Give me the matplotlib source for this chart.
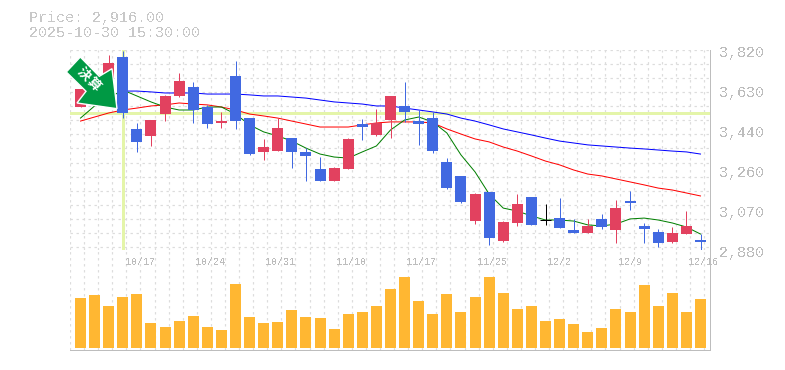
import numpy as np
import matplotlib
matplotlib.use("Agg")
import matplotlib.pyplot as plt
from matplotlib.patches import Polygon

nan = float("nan")

opens = [3552, 3608, 3632, 3787, 3449, 3416, 3519, 3604, 3646, 3552, 3477, 3698, 3500, 3341, 3345,
         3406, 3341, 3261, 3204, 3261, 3472, 3421, 3491, 3557, 3486, 3500, 3294, 3228, 3016, 3153,
         2922, 3007, 3129, 3021, 3030, 2974, 2960, 3026, 2974, 3110, 2993, 2965, 2918, 2955, 2927]
highs = [3637, 3702, 3797, 3815, 3477, 3491, 3609, 3712, 3670, 3562, 3529, 3768, 3500, 3402, 3500,
         3406, 3359, 3317, 3270, 3406, 3496, 3543, 3604, 3670, 3538, 3529, 3312, 3228, 3148, 3153,
         3016, 3143, 3129, 3096, 3124, 3026, 3026, 3049, 3115, 3157, 3007, 2979, 2988, 3063, 2955]
lows = [3552, 3608, 3608, 3500, 3341, 3369, 3486, 3599, 3477, 3453, 3453, 3449, 3327, 3303, 3345,
        3265, 3204, 3204, 3204, 3261, 3397, 3416, 3406, 3482, 3374, 3336, 3167, 3101, 3002, 2904,
        2918, 2993, 2998, 2998, 2983, 2960, 2960, 2979, 2913, 3068, 2913, 2894, 2913, 2955, 2880]
closes = [3637, 3702, 3759, 3524, 3388, 3491, 3604, 3674, 3538, 3472, 3486, 3486, 3331, 3364, 3453,
          3341, 3322, 3204, 3265, 3402, 3458, 3477, 3604, 3529, 3472, 3345, 3171, 3106, 3143, 2936,
          3012, 3096, 2998, 3021, 2983, 2960, 2993, 2988, 3077, 3101, 2979, 2913, 2960, 2993, 2916]

ma_short = [3500, 3557, 3594, 3632, 3604, 3576, 3552, 3538, 3538, 3552, 3552, 3519, 3468, 3435, 3416,
            3392, 3359, 3331, 3317, 3312, 3341, 3369, 3444, 3491, 3505, 3482, 3430, 3327, 3247, 3143,
            3077, 3063, 3040, 3021, 3021, 3016, 2998, 2993, 3002, 3026, 3030, 3021, 3007, 2988, 2955]
ma_mid = [3486, 3505, 3524, 3538, 3547, 3557, 3562, 3571, 3566, 3562, 3552, 3538, 3519, 3510, 3500,
          3486, 3472, 3458, 3458, 3458, 3468, 3477, 3482, 3482, 3482, 3477, 3449, 3425, 3402, 3388,
          3364, 3345, 3322, 3298, 3280, 3256, 3237, 3228, 3214, 3200, 3186, 3171, 3162, 3148, 3134]
ma_long = [nan, nan, nan, 3627, 3627, 3623, 3618, 3618, 3618, 3613, 3613, 3613, 3609, 3604, 3604,
           3599, 3594, 3585, 3576, 3571, 3566, 3557, 3557, 3547, 3538, 3529, 3519, 3500, 3486, 3468,
           3449, 3435, 3421, 3406, 3392, 3383, 3374, 3369, 3364, 3359, 3355, 3350, 3345, 3341, 3331]

volumes = [50, 53, 42, 51, 54, 25, 21, 27, 32, 21, 18, 64, 31, 25, 26, 38, 31, 30, 19, 34, 36, 42, 59,
           71, 47, 34, 54, 36, 51, 71, 55, 39, 42, 27, 29, 24, 16, 20, 39, 36, 63, 42, 55, 36, 49]

price_ticks = [3820, 3632, 3444, 3256, 3068, 2880]
price_labels = ["3,820", "3,630", "3,440", "3,260", "3,070", "2,880"]
date_ticks = [4, 9, 14, 19, 24, 29, 34, 39, 44]
date_labels = ["10/17", "10/24", "10/31", "11/10", "11/17", "11/25", "12/2", "12/9", "12/16"]
event_index = 3
event_price = 3524

W, H = 785, 370
PX = 0.72  # one pixel in points at dpi 100
MONO = "Liberation Mono"
RED = "#E2415F"
BLUE = "#4169E1"
GRID = "#DCDCDC"
FRAME = "#BDBDBD"
EVENT = "#E4F5A9"


def panel(left, top, right, bottom):
    return fig.add_axes([left / W, 1 - bottom / H, (right - left) / W, (bottom - top) / H])


fig = plt.figure(figsize=(W / 100, H / 100), dpi=100)
ax = panel(70, 50, 710, 250)
vol_ax = panel(70, 250, 710, 350)

x = np.arange(len(closes))
step = 620 / 44
xlim = ((70 - 80.5) / step, (710 - 80.5) / step)

for a in (ax, vol_ax):
    a.set_xlim(xlim)
    a.set_xticks([])
    a.set_yticks([])
    a.spines["top"].set_visible(False)
    a.spines["left"].set_visible(False)
    for side in ("bottom", "right"):
        a.spines[side].set_color(FRAME)
        a.spines[side].set_linewidth(1.0 * PX)
    # dashed vertical grid, every candle width
    for k in range(46):
        a.axvline(k - 0.745, color=GRID, lw=1.2 * PX, ls=(0, (2, 3)), zorder=1)

ax.set_ylim(2880, 3820)
vol_ax.set_ylim(-2, 98)

# horizontal grid
for k in range(15):
    ax.axhline(3820 - k * 14.07 * 4.7, color=GRID, lw=1.2 * PX, ls=(0, (2, 3)), zorder=1)

ax.axhline(event_price, color=EVENT, lw=3 * PX, zorder=2)
ax.axvline(event_index, color=EVENT, lw=3 * PX, zorder=2)

ax.plot(x, ma_long, color="#0000FF", lw=1.0 * PX, zorder=3)
ax.plot(x, ma_mid, color="#FF0000", lw=1.0 * PX, zorder=3)
ax.plot(x, ma_short, color="#007F00", lw=1.0 * PX, zorder=3)

body_w = 11 / step
for i in x:
    if closes[i] > opens[i]:
        col = RED
    elif closes[i] < opens[i]:
        col = BLUE
    else:
        col = "#000000"
    ax.vlines(i, lows[i], highs[i], color=col, lw=1.0 * PX, zorder=4)
    if col == "#000000":
        ax.hlines(closes[i], i - body_w / 2, i + body_w / 2, color=col, lw=1.0 * PX, zorder=4)
    else:
        ax.bar(i, abs(closes[i] - opens[i]), bottom=min(opens[i], closes[i]),
               width=body_w, color=col, zorder=4)

vol_ax.bar(x, volumes, width=body_w, color="#FFB732", zorder=3)

for t, lab in zip(price_ticks, price_labels):
    ax.annotate(lab, xy=(1, t), xycoords=ax.get_yaxis_transform(), xytext=(9.5 * PX, -2.7 * PX),
                textcoords="offset points", ha="left", va="center", family=MONO, fontsize=10.8,
                color=FRAME, annotation_clip=False).set_antialiased(False)

for i, lab in zip(date_ticks, date_labels):
    vol_ax.annotate(lab, xy=(i, 1), xycoords=vol_ax.get_xaxis_transform(), xytext=(-12 * PX, -12 * PX),
                    textcoords="offset points", ha="left", va="center", family=MONO, fontsize=7.2,
                    color=FRAME, annotation_clip=False).set_antialiased(False)

fig.text(29 / W, 1 - 18 / H, "Price: 2,916.00", family=MONO, fontsize=10.8, color="#C8C8C8",
         va="center").set_antialiased(False)
fig.text(29 / W, 1 - 33 / H, "2025-10-30 15:30:00", family=MONO, fontsize=10.8, color="#C8C8C8",
         va="center").set_antialiased(False)

# earnings marker, sits over the first candles
arrow = [(66.3, 72), (80.3, 57), (99.3, 76.3), (112, 68.7), (117, 108.7), (77, 103), (86, 91.3)]
arrow = [(px / W, 1 - py / H) for px, py in arrow]
fig.add_artist(Polygon(arrow, closed=True, transform=fig.transFigure, facecolor="#009944",
                       edgecolor="white", lw=1.4 * PX, zorder=5))
fig.text(83.7 / W, 1 - 74 / H, "決", family="Noto Sans CJK JP", weight="bold", fontsize=9.5, color="white",
         rotation=-45, ha="center", va="center", zorder=6)
fig.text(94.3 / W, 1 - 84 / H, "算", family="Noto Sans CJK JP", weight="bold", fontsize=9.5, color="white",
         rotation=-45, ha="center", va="center", zorder=6)

fig.savefig("out.png", dpi=100)
